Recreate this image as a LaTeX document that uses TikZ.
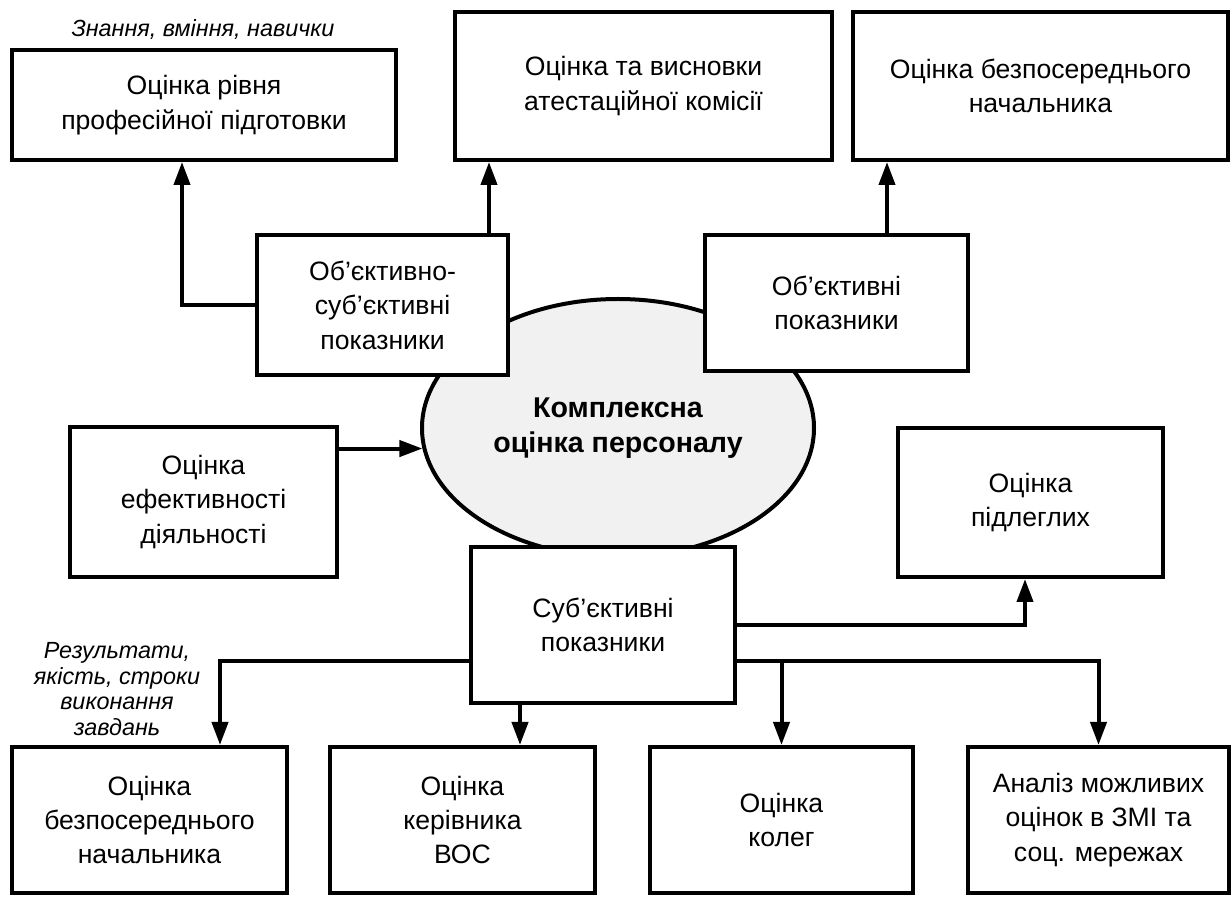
\documentclass[tikz,border=0pt]{standalone}
\usepackage{fontspec}
\setmainfont{Liberation Sans}
\usetikzlibrary{arrows.meta,shapes.geometric}
\definecolor{ellfill}{HTML}{F1F1F1}
\begin{document}
\begin{tikzpicture}[x=0.5pt,y=-0.5pt,
  box/.style={draw, line width=2pt, fill=white, align=center, inner sep=0pt,
    font=\fontsize{13.3pt}{17.2pt}\selectfont},
  arr/.style={line width=2pt, -{Triangle[length=11.5pt,width=8pt]}},
  note/.style={align=center, inner sep=0pt,
    font=\fontsize{11.7pt}{12.8pt}\selectfont\itshape}]
\useasboundingbox (0,0) rectangle (1232,897);
% central ellipse
\node[draw, line width=2pt, fill=ellfill, ellipse, minimum width=196pt,
  minimum height=129pt, inner sep=0pt, align=center,
  font=\fontsize{14.3pt}{17.5pt}\selectfont\bfseries] (E) at (618,428)
  {Комплексна\\оцінка персоналу};
% top row
\node[box, minimum width=192pt, minimum height=55pt] (B1) at (204,105)
  {Оцінка рівня\\професійної підготовки};
\node[box, minimum width=188.5pt, minimum height=74pt] (B2) at (643.5,86)
  {Оцінка та висновки\\атестаційної комісії};
\node[box, minimum width=187.5pt, minimum height=74pt] (B3) at (1040.5,86)
  {Оцінка безпосереднього\\начальника};
% indicator boxes
\node[box, minimum width=125.5pt, minimum height=70pt] (B4) at (382.5,305)
  {Об’єктивно-\\суб’єктивні\\показники};
\node[box, minimum width=131.5pt, minimum height=68pt] (B5) at (836.5,303)
  {Об’єктивні\\показники};
\node[box, minimum width=133.5pt, minimum height=75pt] (B6) at (203.5,502)
  {Оцінка\\ефективності\\діяльності};
\node[box, minimum width=132.5pt, minimum height=74.5pt] (B7) at (1030.5,502.5)
  {Оцінка\\підлеглих};
\node[box, minimum width=132pt, minimum height=78pt] (B8) at (603,625)
  {Суб’єктивні\\показники};
% bottom row
\node[box, minimum width=137.5pt, minimum height=73pt] (C1) at (149.5,820)
  {Оцінка\\безпосереднього\\начальника};
\node[box, minimum width=132.5pt, minimum height=73pt] (C2) at (462.5,820)
  {Оцінка\\керівника\\ВОС};
\node[box, minimum width=131.5pt, minimum height=73pt] (C3) at (781.5,820)
  {Оцінка\\колег};
\node[box, minimum width=130.5pt, minimum height=73pt] (C4) at (1098.5,820)
  {Аналіз можливих\\оцінок в ЗМІ та\\соц. мережах};
% notes
\node[note] (L1) at (203,30) {Знання, вміння, навички};
\node[note] (L2) at (117,689) {Результати,\\якість, строки\\виконання\\завдань};
% connectors
\draw[arr] (B4.west) -| ([xshift=-11pt]B1.south);
\coordinate (p2) at ([xshift=-10.5pt]B4.north east);
\draw[arr] (p2) -- (p2 |- B2.south);
\coordinate (p3) at ([xshift=25.25pt]B5.north);
\draw[arr] (p3) -- (p3 |- B3.south);
\draw[arr] (B6.east |- E.186) -- (E.186);
\draw[arr] (B8.east) -| ([xshift=-2.75pt]B7.south);
\coordinate (hl) at ([yshift=-18pt]B8.west);
\coordinate (hr) at ([yshift=-18pt]B8.east);
\draw[arr] (hl) -| ([xshift=35.25pt]C1.north);
\draw[arr] (hr) -| (C4.north);
\draw[arr] (hr -| C3.north) -- (C3.north);
\coordinate (p5) at ([xshift=28.75pt]C2.north);
\draw[arr] (p5 |- B8.south) -- (p5);
\end{tikzpicture}
\end{document}
